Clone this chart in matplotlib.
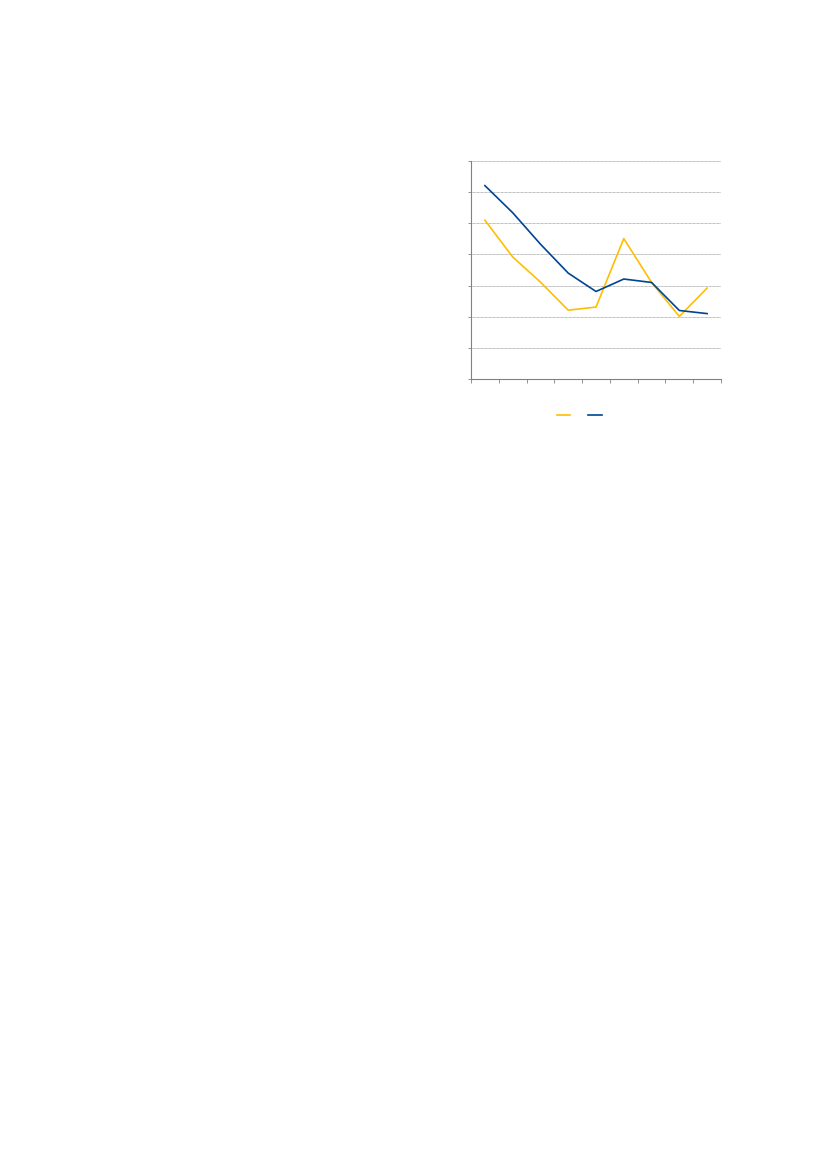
import matplotlib
matplotlib.use("Agg")
import matplotlib.pyplot as plt
import numpy as np

categories = list(range(9))
series_yellow = [5.10, 3.92, 3.11, 2.21, 2.31, 4.51, 3.10, 2.01, 2.92]
series_blue = [6.21, 5.34, 4.33, 3.40, 2.81, 3.21, 3.10, 2.20, 2.10]
y_ticks = [0, 1, 2, 3, 4, 5, 6, 7]

fig = plt.figure(figsize=(8.27, 11.69), dpi=100)
ax = fig.add_axes([471/827, 1-379/1169, 250/827, 218/1169])

x = np.arange(len(categories))
ax.plot(x, series_yellow, color="#FFBE00", lw=1.2, label=" ")
ax.plot(x, series_blue, color="#004494", lw=1.2, label=" ")

ax.set_xlim(-0.5, len(categories) - 0.5)
ax.set_ylim(0, 7)
ax.set_yticks(y_ticks)
ax.set_xticks(np.arange(-0.5, len(categories)))
ax.set_xticklabels([])
ax.set_yticklabels([])
ax.yaxis.grid(True, color="#A0A0A0", lw=0.6, ls=(0, (1, 0.6)))
ax.set_axisbelow(True)
for s in ["top", "right"]:
    ax.spines[s].set_visible(False)
for s in ["left", "bottom"]:
    ax.spines[s].set_color("#808080")
    ax.spines[s].set_linewidth(0.8)
ax.tick_params(axis="x", length=3, color="#808080", width=0.6)
ax.tick_params(axis="y", length=2, color="#808080", width=0.6)

fig.legend(handles=ax.get_lines(), labels=["", ""], loc="center",
           bbox_to_anchor=(581/827, 1-416/1169), ncol=2, frameon=False,
           handlelength=1.25, columnspacing=1.3, handletextpad=0.3,
           fontsize=8)

fig.savefig("out.png", dpi=100)
